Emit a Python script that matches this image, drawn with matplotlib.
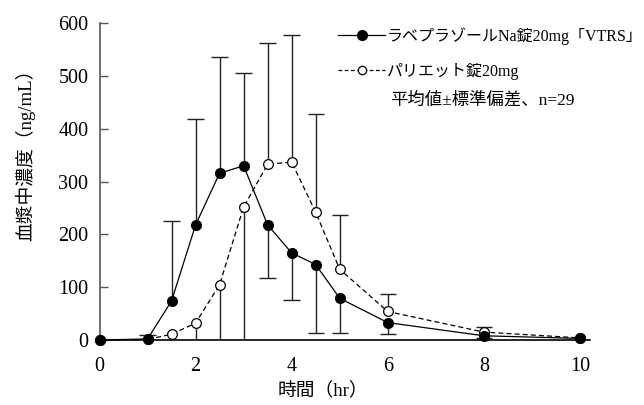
import numpy as np
import matplotlib.pyplot as plt
from matplotlib.lines import Line2D

# time points (hr)
t = np.array([0, 1, 1.5, 2, 2.5, 3, 3.5, 4, 4.5, 5, 6, 8, 10])

# ラベプラゾールNa錠20mg「VTRS」 mean / SD / bar direction (+1 up, -1 down)
vtrs = np.array([0, 2, 74, 218, 316, 330, 218, 165, 143, 79, 33, 8, 3])
vtrs_sd = np.array([0, 8, 151, 200, 221, 175, 100, 89, 129, 65, 22, 4, 0])
vtrs_dir = np.array([1, 1, 1, 1, 1, 1, -1, -1, -1, -1, -1, -1, -1])

# パリエット錠20mg
pariet = np.array([0, 1, 11, 32, 105, 252, 333, 337, 242, 134, 54, 15, 4])
pariet_sd = np.array([0, 0, 19, 40, 130, 270, 229, 240, 187, 103, 34, 9, 0])
pariet_dir = np.array([-1, -1, -1, -1, -1, -1, 1, 1, 1, 1, 1, 1, 1])

xticks = [0, 2, 4, 6, 8, 10]
yticks = [0, 100, 200, 300, 400, 500, 600]

FAM = ['Liberation Serif', 'Noto Sans CJK JP']
plt.rcParams['font.family'] = FAM

fig = plt.figure(figsize=(6.44, 4.05), dpi=100)
ax = fig.add_axes([99.5 / 644, 65 / 405, 490 / 644, 316.7 / 405])

ebc = '#222222'
capw = 0.17


def bars(x, y, sd, d):
    m = sd > 0
    end = y + d * sd
    ax.vlines(x[m], y[m], np.maximum(end[m], 0), color=ebc, lw=1.0, zorder=2)
    c = m & (end > 0)
    ax.hlines(end[c], x[c] - capw, x[c] + capw, color=ebc, lw=1.0, zorder=2)


bars(t, vtrs, vtrs_sd, vtrs_dir)
bars(t, pariet, pariet_sd, pariet_dir)

ax.plot(t, pariet, color='black', lw=0.9, ls=(0, (4, 2.5)), marker='o',
        ms=7, mfc='white', mec='black', mew=0.9, zorder=3, clip_on=False)
ax.plot(t, vtrs, color='black', lw=0.9, ls='-', marker='o',
        ms=7, mfc='black', mec='black', zorder=4, clip_on=False)

ax.set_xlim(0, 10.2)
ax.set_ylim(0, 600)
ax.set_xticks(xticks)
ax.set_yticks(yticks)
ax.tick_params(axis='y', direction='in', length=6, width=1, color='#555555',
               labelsize=14.5, pad=8)
ax.tick_params(axis='x', length=0, labelsize=14.5, pad=12)
for s in ['top', 'right']:
    ax.spines[s].set_visible(False)
ax.spines['left'].set_color('#555555')
ax.spines['left'].set_linewidth(1.2)
ax.spines['bottom'].set_linewidth(1.2)

fig.text(25 / 644, 1 - 150 / 405, '血漿中濃度（ng/mL）', rotation=90,
         ha='center', va='center', fontsize=13.5)
fig.text(323 / 644, 1 - 390 / 405, '時間（hr）', ha='center', va='center',
         fontsize=13.5)

handles = [
    Line2D([], [], color='black', lw=0.9, marker='o', ms=7, mfc='black'),
    Line2D([], [], color='black', lw=0.9, ls=(0, (3, 2)), marker='o', ms=6,
           mfc='white', mew=0.9),
]
labels = ['ラベプラゾールNa錠20mg「VTRS」', 'パリエット錠20mg']
fig.legend(handles, labels, loc='upper left', bbox_to_anchor=(338 / 644, 1 - 27 / 405),
           frameon=False, fontsize=11.5, handlelength=2.95, handletextpad=0.1,
           labelspacing=1.15, borderpad=0, borderaxespad=0, numpoints=1)
fig.text(390 / 644, 1 - 100 / 405, '平均値±標準偏差、n=29', ha='left', va='center',
         fontsize=12.5)

fig.savefig('out.png', dpi=100)
